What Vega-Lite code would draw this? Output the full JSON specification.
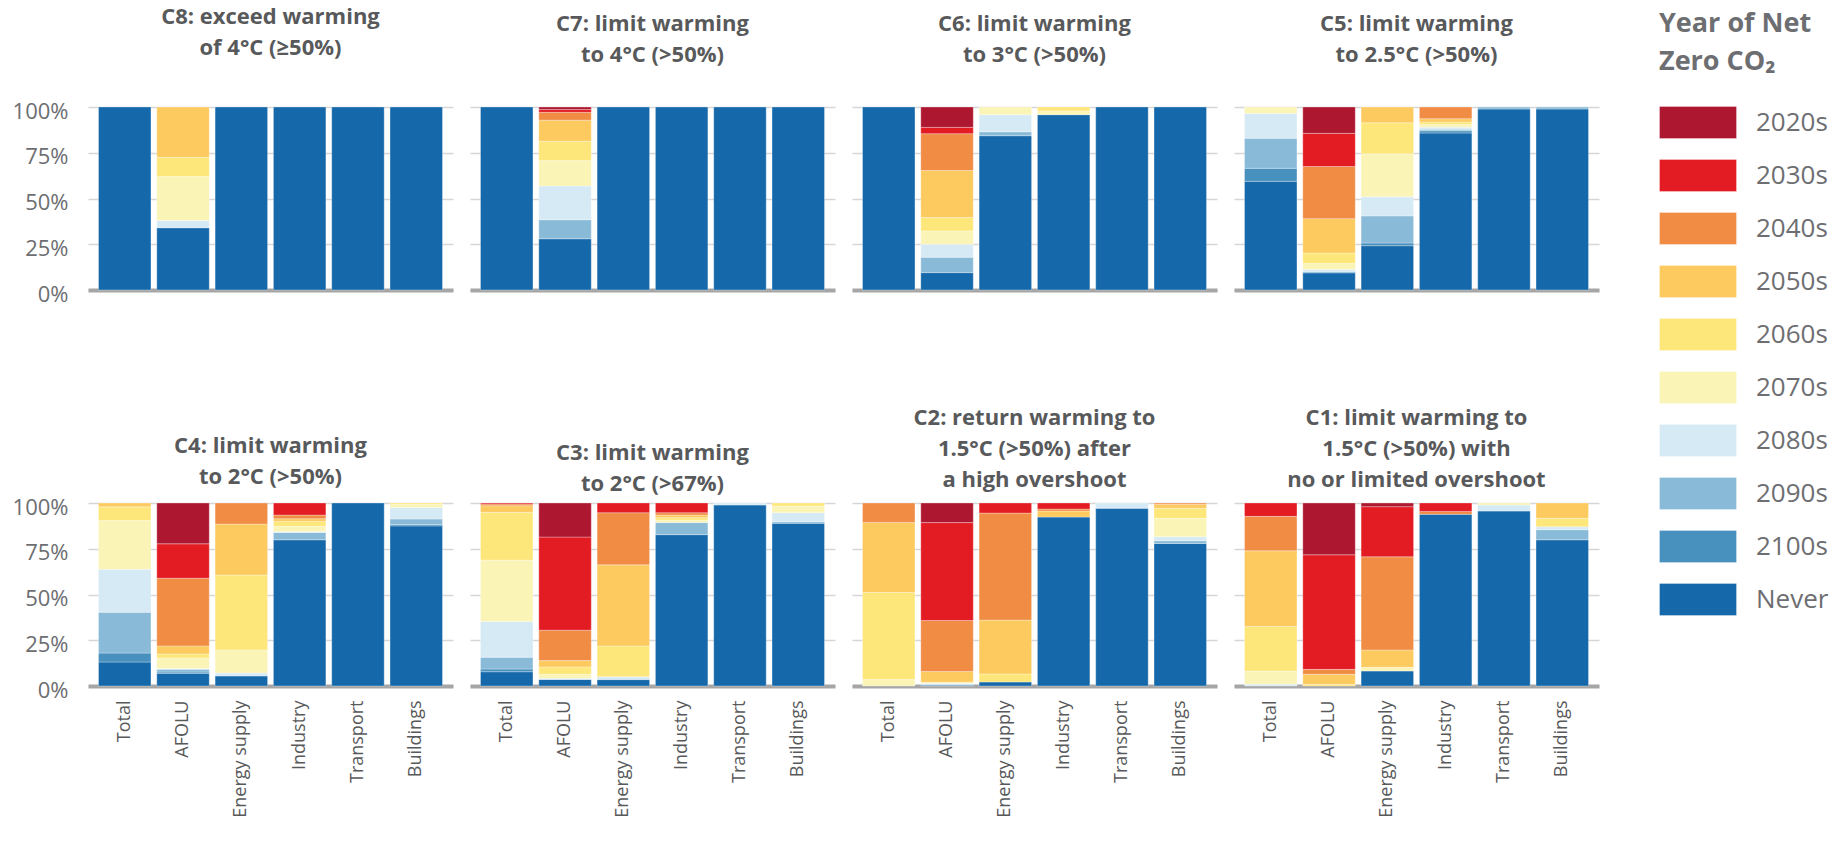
{
  "$schema": "https://vega.github.io/schema/vega-lite/v6.json",
  "padding": {"left": 12, "top": 6, "right": 5, "bottom": 5},
  "spacing": {"row": 102, "column": 17},
  "columns": 4,
  "data": {"values": [
    {"panel":"C8","sector":"Total","decade":"Never","share":100},
    {"panel":"C8","sector":"AFOLU","decade":"Never","share":34},
    {"panel":"C8","sector":"AFOLU","decade":"2080s","share":4},
    {"panel":"C8","sector":"AFOLU","decade":"2070s","share":24},
    {"panel":"C8","sector":"AFOLU","decade":"2060s","share":10.5},
    {"panel":"C8","sector":"AFOLU","decade":"2050s","share":27.5},
    {"panel":"C8","sector":"Energy supply","decade":"Never","share":100},
    {"panel":"C8","sector":"Industry","decade":"Never","share":100},
    {"panel":"C8","sector":"Transport","decade":"Never","share":100},
    {"panel":"C8","sector":"Buildings","decade":"Never","share":100},

    {"panel":"C7","sector":"Total","decade":"Never","share":100},
    {"panel":"C7","sector":"AFOLU","decade":"Never","share":28},
    {"panel":"C7","sector":"AFOLU","decade":"2090s","share":10.4},
    {"panel":"C7","sector":"AFOLU","decade":"2080s","share":18.4},
    {"panel":"C7","sector":"AFOLU","decade":"2070s","share":13.9},
    {"panel":"C7","sector":"AFOLU","decade":"2060s","share":10.6},
    {"panel":"C7","sector":"AFOLU","decade":"2050s","share":11.5},
    {"panel":"C7","sector":"AFOLU","decade":"2040s","share":4.3},
    {"panel":"C7","sector":"AFOLU","decade":"2030s","share":1.5},
    {"panel":"C7","sector":"AFOLU","decade":"2020s","share":1.4},
    {"panel":"C7","sector":"Energy supply","decade":"Never","share":100},
    {"panel":"C7","sector":"Industry","decade":"Never","share":100},
    {"panel":"C7","sector":"Transport","decade":"Never","share":100},
    {"panel":"C7","sector":"Buildings","decade":"Never","share":100},

    {"panel":"C6","sector":"Total","decade":"Never","share":100},
    {"panel":"C6","sector":"AFOLU","decade":"Never","share":9.5},
    {"panel":"C6","sector":"AFOLU","decade":"2090s","share":8.4},
    {"panel":"C6","sector":"AFOLU","decade":"2080s","share":7.1},
    {"panel":"C6","sector":"AFOLU","decade":"2070s","share":7.3},
    {"panel":"C6","sector":"AFOLU","decade":"2060s","share":7.3},
    {"panel":"C6","sector":"AFOLU","decade":"2050s","share":25.7},
    {"panel":"C6","sector":"AFOLU","decade":"2040s","share":20.1},
    {"panel":"C6","sector":"AFOLU","decade":"2030s","share":3.5},
    {"panel":"C6","sector":"AFOLU","decade":"2020s","share":11.1},
    {"panel":"C6","sector":"Energy supply","decade":"Never","share":84.3},
    {"panel":"C6","sector":"Energy supply","decade":"2090s","share":2.2},
    {"panel":"C6","sector":"Energy supply","decade":"2080s","share":9.3},
    {"panel":"C6","sector":"Energy supply","decade":"2070s","share":4.2},
    {"panel":"C6","sector":"Industry","decade":"Never","share":95.8},
    {"panel":"C6","sector":"Industry","decade":"2070s","share":2.0},
    {"panel":"C6","sector":"Industry","decade":"2060s","share":2.2},
    {"panel":"C6","sector":"Transport","decade":"Never","share":100},
    {"panel":"C6","sector":"Buildings","decade":"Never","share":100},

    {"panel":"C5","sector":"Total","decade":"Never","share":59.4},
    {"panel":"C5","sector":"Total","decade":"2100s","share":7.1},
    {"panel":"C5","sector":"Total","decade":"2090s","share":16.4},
    {"panel":"C5","sector":"Total","decade":"2080s","share":13.5},
    {"panel":"C5","sector":"Total","decade":"2070s","share":3.6},
    {"panel":"C5","sector":"AFOLU","decade":"Never","share":9.4},
    {"panel":"C5","sector":"AFOLU","decade":"2100s","share":0.5},
    {"panel":"C5","sector":"AFOLU","decade":"2080s","share":1.3},
    {"panel":"C5","sector":"AFOLU","decade":"2070s","share":3.3},
    {"panel":"C5","sector":"AFOLU","decade":"2060s","share":5.7},
    {"panel":"C5","sector":"AFOLU","decade":"2050s","share":18.8},
    {"panel":"C5","sector":"AFOLU","decade":"2040s","share":28.5},
    {"panel":"C5","sector":"AFOLU","decade":"2030s","share":18.1},
    {"panel":"C5","sector":"AFOLU","decade":"2020s","share":14.4},
    {"panel":"C5","sector":"Energy supply","decade":"Never","share":24.2},
    {"panel":"C5","sector":"Energy supply","decade":"2100s","share":1.5},
    {"panel":"C5","sector":"Energy supply","decade":"2090s","share":14.8},
    {"panel":"C5","sector":"Energy supply","decade":"2080s","share":10.4},
    {"panel":"C5","sector":"Energy supply","decade":"2070s","share":23.5},
    {"panel":"C5","sector":"Energy supply","decade":"2060s","share":17.0},
    {"panel":"C5","sector":"Energy supply","decade":"2050s","share":8.6},
    {"panel":"C5","sector":"Industry","decade":"Never","share":85.8},
    {"panel":"C5","sector":"Industry","decade":"2100s","share":1.2},
    {"panel":"C5","sector":"Industry","decade":"2090s","share":0.8},
    {"panel":"C5","sector":"Industry","decade":"2080s","share":1.2},
    {"panel":"C5","sector":"Industry","decade":"2070s","share":1.5},
    {"panel":"C5","sector":"Industry","decade":"2060s","share":1.3},
    {"panel":"C5","sector":"Industry","decade":"2050s","share":1.8},
    {"panel":"C5","sector":"Industry","decade":"2040s","share":6.4},
    {"panel":"C5","sector":"Transport","decade":"Never","share":98.9},
    {"panel":"C5","sector":"Transport","decade":"2090s","share":1.1},
    {"panel":"C5","sector":"Buildings","decade":"Never","share":98.9},
    {"panel":"C5","sector":"Buildings","decade":"2090s","share":1.1},

    {"panel":"C4","sector":"Total","decade":"Never","share":13.1},
    {"panel":"C4","sector":"Total","decade":"2100s","share":4.9},
    {"panel":"C4","sector":"Total","decade":"2090s","share":22.3},
    {"panel":"C4","sector":"Total","decade":"2080s","share":23.5},
    {"panel":"C4","sector":"Total","decade":"2070s","share":26.6},
    {"panel":"C4","sector":"Total","decade":"2060s","share":7.5},
    {"panel":"C4","sector":"Total","decade":"2050s","share":2.1},
    {"panel":"C4","sector":"AFOLU","decade":"Never","share":6.9},
    {"panel":"C4","sector":"AFOLU","decade":"2100s","share":0.7},
    {"panel":"C4","sector":"AFOLU","decade":"2090s","share":1.5},
    {"panel":"C4","sector":"AFOLU","decade":"2080s","share":0.5},
    {"panel":"C4","sector":"AFOLU","decade":"2070s","share":5.7},
    {"panel":"C4","sector":"AFOLU","decade":"2060s","share":2.2},
    {"panel":"C4","sector":"AFOLU","decade":"2050s","share":4.4},
    {"panel":"C4","sector":"AFOLU","decade":"2040s","share":37.0},
    {"panel":"C4","sector":"AFOLU","decade":"2030s","share":18.8},
    {"panel":"C4","sector":"AFOLU","decade":"2020s","share":22.3},
    {"panel":"C4","sector":"Energy supply","decade":"Never","share":5.5},
    {"panel":"C4","sector":"Energy supply","decade":"2080s","share":1.6},
    {"panel":"C4","sector":"Energy supply","decade":"2070s","share":12.6},
    {"panel":"C4","sector":"Energy supply","decade":"2060s","share":40.9},
    {"panel":"C4","sector":"Energy supply","decade":"2050s","share":27.9},
    {"panel":"C4","sector":"Energy supply","decade":"2040s","share":11.5},
    {"panel":"C4","sector":"Industry","decade":"Never","share":79.9},
    {"panel":"C4","sector":"Industry","decade":"2090s","share":4.0},
    {"panel":"C4","sector":"Industry","decade":"2080s","share":0.5},
    {"panel":"C4","sector":"Industry","decade":"2070s","share":2.9},
    {"panel":"C4","sector":"Industry","decade":"2060s","share":2.6},
    {"panel":"C4","sector":"Industry","decade":"2050s","share":1.5},
    {"panel":"C4","sector":"Industry","decade":"2040s","share":2.0},
    {"panel":"C4","sector":"Industry","decade":"2030s","share":6.6},
    {"panel":"C4","sector":"Transport","decade":"Never","share":100},
    {"panel":"C4","sector":"Buildings","decade":"Never","share":87.5},
    {"panel":"C4","sector":"Buildings","decade":"2100s","share":0.7},
    {"panel":"C4","sector":"Buildings","decade":"2090s","share":3.1},
    {"panel":"C4","sector":"Buildings","decade":"2080s","share":6.2},
    {"panel":"C4","sector":"Buildings","decade":"2070s","share":1.8},
    {"panel":"C4","sector":"Buildings","decade":"2060s","share":0.7},

    {"panel":"C3","sector":"Total","decade":"Never","share":7.8},
    {"panel":"C3","sector":"Total","decade":"2100s","share":1.5},
    {"panel":"C3","sector":"Total","decade":"2090s","share":6.4},
    {"panel":"C3","sector":"Total","decade":"2080s","share":19.5},
    {"panel":"C3","sector":"Total","decade":"2070s","share":33.6},
    {"panel":"C3","sector":"Total","decade":"2060s","share":26.1},
    {"panel":"C3","sector":"Total","decade":"2050s","share":3.6},
    {"panel":"C3","sector":"Total","decade":"2040s","share":1.0},
    {"panel":"C3","sector":"Total","decade":"2030s","share":0.5},
    {"panel":"C3","sector":"AFOLU","decade":"Never","share":3.6},
    {"panel":"C3","sector":"AFOLU","decade":"2080s","share":0.6},
    {"panel":"C3","sector":"AFOLU","decade":"2070s","share":2.2},
    {"panel":"C3","sector":"AFOLU","decade":"2060s","share":4.0},
    {"panel":"C3","sector":"AFOLU","decade":"2050s","share":3.5},
    {"panel":"C3","sector":"AFOLU","decade":"2040s","share":16.6},
    {"panel":"C3","sector":"AFOLU","decade":"2030s","share":50.9},
    {"panel":"C3","sector":"AFOLU","decade":"2020s","share":18.6},
    {"panel":"C3","sector":"Energy supply","decade":"Never","share":3.5},
    {"panel":"C3","sector":"Energy supply","decade":"2080s","share":1.6},
    {"panel":"C3","sector":"Energy supply","decade":"2060s","share":16.8},
    {"panel":"C3","sector":"Energy supply","decade":"2050s","share":44.3},
    {"panel":"C3","sector":"Energy supply","decade":"2040s","share":28.5},
    {"panel":"C3","sector":"Energy supply","decade":"2030s","share":5.3},
    {"panel":"C3","sector":"Industry","decade":"Never","share":82.7},
    {"panel":"C3","sector":"Industry","decade":"2090s","share":6.6},
    {"panel":"C3","sector":"Industry","decade":"2070s","share":1.3},
    {"panel":"C3","sector":"Industry","decade":"2060s","share":1.3},
    {"panel":"C3","sector":"Industry","decade":"2050s","share":1.5},
    {"panel":"C3","sector":"Industry","decade":"2040s","share":1.3},
    {"panel":"C3","sector":"Industry","decade":"2030s","share":5.3},
    {"panel":"C3","sector":"Transport","decade":"Never","share":98.9},
    {"panel":"C3","sector":"Transport","decade":"2080s","share":1.1},
    {"panel":"C3","sector":"Buildings","decade":"Never","share":88.9},
    {"panel":"C3","sector":"Buildings","decade":"2090s","share":0.9},
    {"panel":"C3","sector":"Buildings","decade":"2080s","share":4.9},
    {"panel":"C3","sector":"Buildings","decade":"2070s","share":3.6},
    {"panel":"C3","sector":"Buildings","decade":"2060s","share":1.7},

    {"panel":"C2","sector":"Total","decade":"2070s","share":3.6},
    {"panel":"C2","sector":"Total","decade":"2060s","share":47.5},
    {"panel":"C2","sector":"Total","decade":"2050s","share":38.3},
    {"panel":"C2","sector":"Total","decade":"2040s","share":10.6},
    {"panel":"C2","sector":"AFOLU","decade":"Never","share":0.4},
    {"panel":"C2","sector":"AFOLU","decade":"2090s","share":0.5},
    {"panel":"C2","sector":"AFOLU","decade":"2080s","share":0.5},
    {"panel":"C2","sector":"AFOLU","decade":"2070s","share":0.7},
    {"panel":"C2","sector":"AFOLU","decade":"2050s","share":5.8},
    {"panel":"C2","sector":"AFOLU","decade":"2040s","share":27.9},
    {"panel":"C2","sector":"AFOLU","decade":"2030s","share":53.5},
    {"panel":"C2","sector":"AFOLU","decade":"2020s","share":10.7},
    {"panel":"C2","sector":"Energy supply","decade":"Never","share":2.2},
    {"panel":"C2","sector":"Energy supply","decade":"2060s","share":4.4},
    {"panel":"C2","sector":"Energy supply","decade":"2050s","share":29.4},
    {"panel":"C2","sector":"Energy supply","decade":"2040s","share":58.5},
    {"panel":"C2","sector":"Energy supply","decade":"2030s","share":5.5},
    {"panel":"C2","sector":"Industry","decade":"Never","share":92.3},
    {"panel":"C2","sector":"Industry","decade":"2050s","share":3.3},
    {"panel":"C2","sector":"Industry","decade":"2040s","share":1.1},
    {"panel":"C2","sector":"Industry","decade":"2030s","share":3.3},
    {"panel":"C2","sector":"Transport","decade":"Never","share":97.1},
    {"panel":"C2","sector":"Transport","decade":"2080s","share":2.9},
    {"panel":"C2","sector":"Buildings","decade":"Never","share":77.9},
    {"panel":"C2","sector":"Buildings","decade":"2090s","share":1.5},
    {"panel":"C2","sector":"Buildings","decade":"2080s","share":2.2},
    {"panel":"C2","sector":"Buildings","decade":"2070s","share":10.0},
    {"panel":"C2","sector":"Buildings","decade":"2060s","share":5.5},
    {"panel":"C2","sector":"Buildings","decade":"2050s","share":2.2},
    {"panel":"C2","sector":"Buildings","decade":"2040s","share":0.7},

    {"panel":"C1","sector":"Total","decade":"2080s","share":0.9},
    {"panel":"C1","sector":"Total","decade":"2070s","share":7.3},
    {"panel":"C1","sector":"Total","decade":"2060s","share":24.3},
    {"panel":"C1","sector":"Total","decade":"2050s","share":41.4},
    {"panel":"C1","sector":"Total","decade":"2040s","share":18.8},
    {"panel":"C1","sector":"Total","decade":"2030s","share":7.3},
    {"panel":"C1","sector":"AFOLU","decade":"2060s","share":0.9},
    {"panel":"C1","sector":"AFOLU","decade":"2050s","share":5.5},
    {"panel":"C1","sector":"AFOLU","decade":"2040s","share":2.7},
    {"panel":"C1","sector":"AFOLU","decade":"2030s","share":62.6},
    {"panel":"C1","sector":"AFOLU","decade":"2020s","share":28.3},
    {"panel":"C1","sector":"Energy supply","decade":"Never","share":8.2},
    {"panel":"C1","sector":"Energy supply","decade":"2070s","share":2.0},
    {"panel":"C1","sector":"Energy supply","decade":"2050s","share":9.5},
    {"panel":"C1","sector":"Energy supply","decade":"2040s","share":50.9},
    {"panel":"C1","sector":"Energy supply","decade":"2030s","share":27.4},
    {"panel":"C1","sector":"Energy supply","decade":"2020s","share":2.0},
    {"panel":"C1","sector":"Industry","decade":"Never","share":93.8},
    {"panel":"C1","sector":"Industry","decade":"2040s","share":1.6},
    {"panel":"C1","sector":"Industry","decade":"2030s","share":4.6},
    {"panel":"C1","sector":"Transport","decade":"Never","share":95.6},
    {"panel":"C1","sector":"Transport","decade":"2080s","share":3.3},
    {"panel":"C1","sector":"Transport","decade":"2070s","share":1.1},
    {"panel":"C1","sector":"Buildings","decade":"Never","share":79.9},
    {"panel":"C1","sector":"Buildings","decade":"2090s","share":5.5},
    {"panel":"C1","sector":"Buildings","decade":"2080s","share":1.6},
    {"panel":"C1","sector":"Buildings","decade":"2060s","share":4.6},
    {"panel":"C1","sector":"Buildings","decade":"2050s","share":8.4}
  ]},
  "concat": [
    {"title": {"text": ["C8: exceed warming", "of 4°C (≥50%)"], "offset": 40},
     "width": 365, "height": 183,
     "transform": [{"filter": "datum.panel == 'C8'"}],
     "mark": "bar",
     "encoding": {
       "x": {"field": "sector", "type": "nominal", "sort": ["Total","AFOLU","Energy supply","Industry","Transport","Buildings"], "scale": {"paddingInner": 0.1, "paddingOuter": 0.18}, "axis": {"labels": false}},
       "y": {"field": "share", "type": "quantitative", "stack": "normalize", "axis": {"values": [0, 0.25, 0.5, 0.75, 1]}},
       "color": {"field": "decade", "type": "nominal", "title": ["Year of Net", "Zero CO₂"], "legend": {"orient": "none", "legendX": 1571, "legendY": -96}, "scale": {"domain": ["2020s","2030s","2040s","2050s","2060s","2070s","2080s","2090s","2100s","Never"], "range": ["#ae1730","#e31b23","#f08c44","#fdca5f","#fee77a","#faf4b6","#d6eaf6","#89bbd8","#4890bd","#1569ab"]}},
       "order": {"field": "decade", "type": "ordinal", "sort": "descending"}
     }},
    {"title": {"text": ["C7: limit warming", "to 4°C (>50%)"], "offset": 40},
     "width": 365, "height": 183,
     "transform": [{"filter": "datum.panel == 'C7'"}],
     "mark": "bar",
     "encoding": {
       "x": {"field": "sector", "type": "nominal", "sort": ["Total","AFOLU","Energy supply","Industry","Transport","Buildings"], "scale": {"paddingInner": 0.1, "paddingOuter": 0.18}, "axis": {"labels": false}},
       "y": {"field": "share", "type": "quantitative", "stack": "normalize", "axis": {"labels": false, "values": [0, 0.25, 0.5, 0.75, 1]}},
       "color": {"field": "decade", "type": "nominal", "title": ["Year of Net", "Zero CO₂"], "legend": {"orient": "none", "legendX": 1571, "legendY": -96}, "scale": {"domain": ["2020s","2030s","2040s","2050s","2060s","2070s","2080s","2090s","2100s","Never"], "range": ["#ae1730","#e31b23","#f08c44","#fdca5f","#fee77a","#faf4b6","#d6eaf6","#89bbd8","#4890bd","#1569ab"]}},
       "order": {"field": "decade", "type": "ordinal", "sort": "descending"}
     }},
    {"title": {"text": ["C6: limit warming", "to 3°C (>50%)"], "offset": 40},
     "width": 365, "height": 183,
     "transform": [{"filter": "datum.panel == 'C6'"}],
     "mark": "bar",
     "encoding": {
       "x": {"field": "sector", "type": "nominal", "sort": ["Total","AFOLU","Energy supply","Industry","Transport","Buildings"], "scale": {"paddingInner": 0.1, "paddingOuter": 0.18}, "axis": {"labels": false}},
       "y": {"field": "share", "type": "quantitative", "stack": "normalize", "axis": {"labels": false, "values": [0, 0.25, 0.5, 0.75, 1]}},
       "color": {"field": "decade", "type": "nominal", "title": ["Year of Net", "Zero CO₂"], "legend": {"orient": "none", "legendX": 1571, "legendY": -96}, "scale": {"domain": ["2020s","2030s","2040s","2050s","2060s","2070s","2080s","2090s","2100s","Never"], "range": ["#ae1730","#e31b23","#f08c44","#fdca5f","#fee77a","#faf4b6","#d6eaf6","#89bbd8","#4890bd","#1569ab"]}},
       "order": {"field": "decade", "type": "ordinal", "sort": "descending"}
     }},
    {"title": {"text": ["C5: limit warming", "to 2.5°C (>50%)"], "offset": 40},
     "width": 365, "height": 183,
     "transform": [{"filter": "datum.panel == 'C5'"}],
     "mark": "bar",
     "encoding": {
       "x": {"field": "sector", "type": "nominal", "sort": ["Total","AFOLU","Energy supply","Industry","Transport","Buildings"], "scale": {"paddingInner": 0.1, "paddingOuter": 0.18}, "axis": {"labels": false}},
       "y": {"field": "share", "type": "quantitative", "stack": "normalize", "axis": {"labels": false, "values": [0, 0.25, 0.5, 0.75, 1]}},
       "color": {"field": "decade", "type": "nominal", "title": ["Year of Net", "Zero CO₂"], "legend": {"orient": "none", "legendX": 1571, "legendY": -96}, "scale": {"domain": ["2020s","2030s","2040s","2050s","2060s","2070s","2080s","2090s","2100s","Never"], "range": ["#ae1730","#e31b23","#f08c44","#fdca5f","#fee77a","#faf4b6","#d6eaf6","#89bbd8","#4890bd","#1569ab"]}},
       "order": {"field": "decade", "type": "ordinal", "sort": "descending"}
     }},
    {"title": {"text": ["C4: limit warming", "to 2°C (>50%)"], "offset": 7},
     "width": 365, "height": 183,
     "transform": [{"filter": "datum.panel == 'C4'"}],
     "mark": "bar",
     "encoding": {
       "x": {"field": "sector", "type": "nominal", "sort": ["Total","AFOLU","Energy supply","Industry","Transport","Buildings"], "scale": {"paddingInner": 0.1, "paddingOuter": 0.18}},
       "y": {"field": "share", "type": "quantitative", "stack": "normalize", "axis": {"values": [0, 0.25, 0.5, 0.75, 1]}},
       "color": {"field": "decade", "type": "nominal", "title": ["Year of Net", "Zero CO₂"], "legend": {"orient": "none", "legendX": 1571, "legendY": -96}, "scale": {"domain": ["2020s","2030s","2040s","2050s","2060s","2070s","2080s","2090s","2100s","Never"], "range": ["#ae1730","#e31b23","#f08c44","#fdca5f","#fee77a","#faf4b6","#d6eaf6","#89bbd8","#4890bd","#1569ab"]}},
       "order": {"field": "decade", "type": "ordinal", "sort": "descending"}
     }},
    {"title": {"text": ["C3: limit warming", "to 2°C (>67%)"], "offset": 7},
     "width": 365, "height": 183,
     "transform": [{"filter": "datum.panel == 'C3'"}],
     "mark": "bar",
     "encoding": {
       "x": {"field": "sector", "type": "nominal", "sort": ["Total","AFOLU","Energy supply","Industry","Transport","Buildings"], "scale": {"paddingInner": 0.1, "paddingOuter": 0.18}},
       "y": {"field": "share", "type": "quantitative", "stack": "normalize", "axis": {"labels": false, "values": [0, 0.25, 0.5, 0.75, 1]}},
       "color": {"field": "decade", "type": "nominal", "title": ["Year of Net", "Zero CO₂"], "legend": {"orient": "none", "legendX": 1571, "legendY": -96}, "scale": {"domain": ["2020s","2030s","2040s","2050s","2060s","2070s","2080s","2090s","2100s","Never"], "range": ["#ae1730","#e31b23","#f08c44","#fdca5f","#fee77a","#faf4b6","#d6eaf6","#89bbd8","#4890bd","#1569ab"]}},
       "order": {"field": "decade", "type": "ordinal", "sort": "descending"}
     }},
    {"title": {"text": ["C2: return warming to", "1.5°C (>50%) after", "a high overshoot"], "offset": 10.5},
     "width": 365, "height": 183,
     "transform": [{"filter": "datum.panel == 'C2'"}],
     "mark": "bar",
     "encoding": {
       "x": {"field": "sector", "type": "nominal", "sort": ["Total","AFOLU","Energy supply","Industry","Transport","Buildings"], "scale": {"paddingInner": 0.1, "paddingOuter": 0.18}},
       "y": {"field": "share", "type": "quantitative", "stack": "normalize", "axis": {"labels": false, "values": [0, 0.25, 0.5, 0.75, 1]}},
       "color": {"field": "decade", "type": "nominal", "title": ["Year of Net", "Zero CO₂"], "legend": {"orient": "none", "legendX": 1571, "legendY": -96}, "scale": {"domain": ["2020s","2030s","2040s","2050s","2060s","2070s","2080s","2090s","2100s","Never"], "range": ["#ae1730","#e31b23","#f08c44","#fdca5f","#fee77a","#faf4b6","#d6eaf6","#89bbd8","#4890bd","#1569ab"]}},
       "order": {"field": "decade", "type": "ordinal", "sort": "descending"}
     }},
    {"title": {"text": ["C1: limit warming to", "1.5°C (>50%) with", "no or limited overshoot"], "offset": 10.5},
     "width": 365, "height": 183,
     "transform": [{"filter": "datum.panel == 'C1'"}],
     "mark": "bar",
     "encoding": {
       "x": {"field": "sector", "type": "nominal", "sort": ["Total","AFOLU","Energy supply","Industry","Transport","Buildings"], "scale": {"paddingInner": 0.1, "paddingOuter": 0.18}},
       "y": {"field": "share", "type": "quantitative", "stack": "normalize", "axis": {"labels": false, "values": [0, 0.25, 0.5, 0.75, 1]}},
       "color": {"field": "decade", "type": "nominal", "title": ["Year of Net", "Zero CO₂"], "legend": {"orient": "none", "legendX": 1571, "legendY": -96}, "scale": {"domain": ["2020s","2030s","2040s","2050s","2060s","2070s","2080s","2090s","2100s","Never"], "range": ["#ae1730","#e31b23","#f08c44","#fdca5f","#fee77a","#faf4b6","#d6eaf6","#89bbd8","#4890bd","#1569ab"]}},
       "order": {"field": "decade", "type": "ordinal", "sort": "descending"}
     }}
  ],
  "config": {
    "font": "Open Sans",
    "view": {"stroke": null},
    "bar": {"stroke": "#ffffff", "strokeWidth": 0.6, "strokeOpacity": 0.5},
    "axisX": {"title": null, "ticks": false, "grid": false, "domainColor": "#a6a6a6", "domainWidth": 4, "labelAngle": 270, "labelFont": "Open Sans", "labelFontSize": 18, "labelColor": "#58595b", "labelPadding": 14},
    "axisY": {"title": null, "ticks": false, "domain": false, "gridColor": "#d6d6d6", "gridWidth": 1.5, "format": ".0%", "labelFont": "Open Sans", "labelFontSize": 22, "labelColor": "#6d6e71", "labelPadding": 20, "labelOffset": 4},
    "title": {"font": "'Liberation Sans Narrow', 'Open Sans', sans-serif", "fontSize": 22, "fontWeight": "bold", "color": "#58595b", "lineHeight": 31, "anchor": "middle"},
    "legend": {"titleFont": "Open Sans", "titleFontSize": 27, "titleFontWeight": "bold", "titleColor": "#6d6e71", "titleLineHeight": 38, "titlePadding": 30, "labelFont": "Open Sans", "labelFontSize": 26, "labelColor": "#6d6e71", "labelOffset": 64, "symbolType": "M-1,-1H3.8125V1H-1Z", "symbolSize": 1024, "symbolStrokeWidth": 0, "symbolOpacity": 1, "rowPadding": 18}
  }
}
